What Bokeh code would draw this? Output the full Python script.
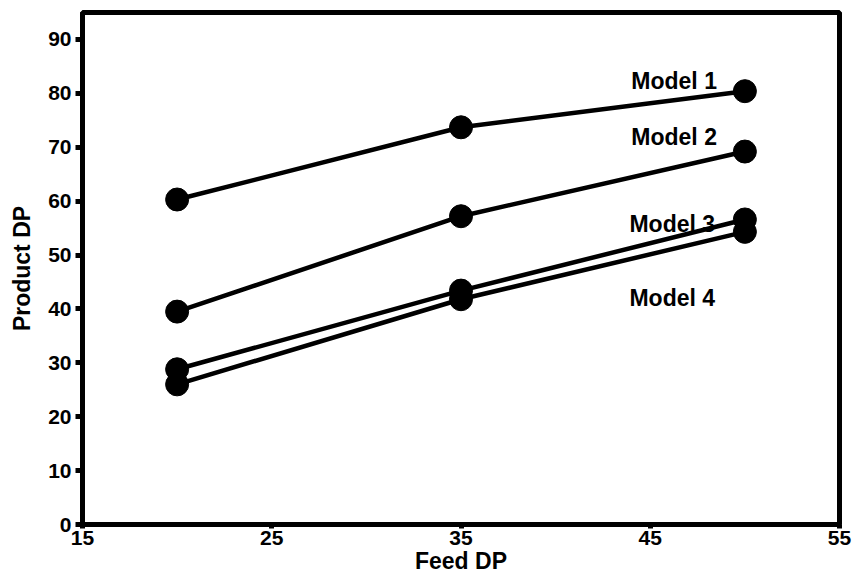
from bokeh.plotting import figure
from bokeh.models import Range1d, FixedTicker, Label
from bokeh.embed import file_html
from bokeh.resources import INLINE

feed_dp = [20, 35, 50]
model1 = [60.3, 73.7, 80.4]
model2 = [39.5, 57.2, 69.2]
model3 = [28.8, 43.4, 56.6]
model4 = [26.0, 41.8, 54.3]
series = [model1, model2, model3, model4]
labels = ["Model 1", "Model 2", "Model 3", "Model 4"]
label_x = [44.0, 44.0, 43.9, 43.9]
label_y = [82.3, 71.9, 55.7, 42.1]
x_ticks = [15, 25, 35, 45, 55]
y_ticks = [0, 10, 20, 30, 40, 50, 60, 70, 80, 90]

FONT = "Liberation Sans"

p = figure(width=852, height=576, output_backend="svg", toolbar_location=None,
           x_range=Range1d(15, 55), y_range=Range1d(0, 95),
           min_border_left=82, min_border_right=13, min_border_top=12, min_border_bottom=52)

p.xgrid.visible = False
p.ygrid.visible = False
p.outline_line_color = "black"
p.outline_line_width = 5
p.outline_line_alpha = 1.0

for ax in (p.xaxis[0], p.yaxis[0]):
    ax.axis_line_width = 5
    ax.axis_line_color = "black"
    ax.major_tick_line_width = 5
    ax.major_tick_out = 7
    ax.major_tick_in = 0
    ax.minor_tick_line_color = None
    ax.major_label_text_font = FONT
    ax.major_label_text_font_style = "bold"
    ax.major_label_text_font_size = "21px"
    ax.major_label_text_color = "black"
    ax.axis_label_text_font = FONT
    ax.axis_label_text_font_style = "bold"
    ax.axis_label_text_font_size = "23px"
    ax.axis_label_text_color = "black"

p.xaxis[0].ticker = FixedTicker(ticks=x_ticks)
p.yaxis[0].ticker = FixedTicker(ticks=y_ticks)
p.xaxis[0].major_tick_out = 4
p.xaxis[0].major_label_standoff = 2
p.xaxis[0].axis_label_standoff = 0
p.yaxis[0].major_label_standoff = 4
p.yaxis[0].axis_label_standoff = 10
p.xaxis[0].axis_label = "Feed DP"
p.yaxis[0].axis_label = "Product DP"

for ys in series:
    p.line(feed_dp, ys, line_color="black", line_width=4.5)
    p.scatter(feed_dp, ys, size=23, fill_color="black", line_color="black")

for t, lx, ly in zip(labels, label_x, label_y):
    p.add_layout(Label(x=lx, y=ly, text=t, text_font=FONT, text_font_style="bold",
                       text_font_size="23px", text_color="black", text_baseline="alphabetic"))

open("out.html", "w").write(file_html(p, INLINE))
